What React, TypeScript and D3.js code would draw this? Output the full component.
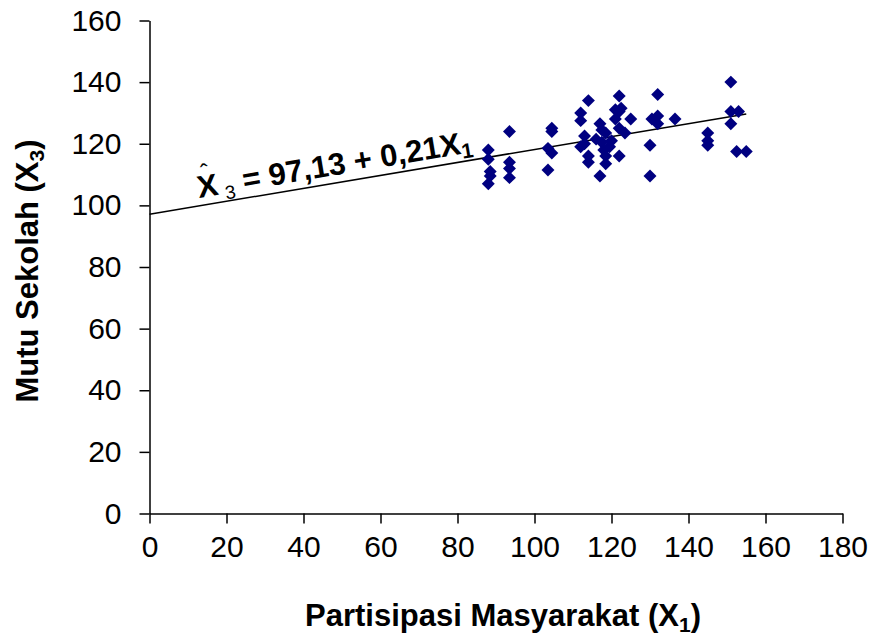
import * as d3 from "d3";
import { useEffect, useRef } from "react";

// Data
const partisipasi = [
  88, 88, 88.5, 88.5, 88, 93.5, 93.5, 93.5, 93.5, 103.5,
  103.5, 104.5, 104.5, 104.5, 112, 112, 112, 113, 113, 114,
  114, 114, 117, 117, 117.5, 117.5, 118, 118.5, 118.5, 118.5,
  121, 121, 122, 122, 122, 122, 122.5, 123.5, 125, 130,
  130, 130.5, 132, 132, 132, 136.5, 145, 145, 145, 151,
  151, 151, 153, 152.5, 155, 116, 119.5, 120
];
const mutu = [
  118, 115, 111, 109.5, 107, 124, 114, 112, 109, 118.5,
  111.5, 125, 124, 117, 130, 127.5, 119, 122.5, 120, 134,
  116, 114, 126.5, 109.5, 124.5, 120.5, 118, 116, 113.5, 123.5,
  131, 128, 135.5, 130.5, 125, 116, 131.5, 123.5, 128, 119.5,
  109.5, 128, 136, 129, 126.5, 128, 123.5, 121, 119.5, 140,
  130.5, 126.5, 130.5, 117.5, 117.5, 121.5, 119, 121
];
const xTicks = [0, 20, 40, 60, 80, 100, 120, 140, 160, 180];
const yTicks = [0, 20, 40, 60, 80, 100, 120, 140, 160];
const intercept = 97.13;
const slope = 0.21;

const font = "'Liberation Sans', Arial, sans-serif";

const drawChart = (node: SVGSVGElement) => {
  const svg = d3.select(node);
  svg.selectAll("*").remove();

  const xScale = d3.scaleLinear().domain([0, 180]).range([149.5, 842.5]);
  const yScale = d3.scaleLinear().domain([0, 160]).range([513.5, 20.5]);

  // axes
  const xAxis = d3.axisBottom(xScale).tickValues(xTicks).tickSize(10).tickSizeOuter(0).tickPadding(12);
  const xg = svg.append("g").attr("transform", `translate(0, ${yScale(0)})`).call(xAxis);

  const yAxis = d3.axisLeft(yScale).tickValues(yTicks).tickSize(10).tickSizeOuter(0).tickPadding(18);
  const yg = svg.append("g").attr("transform", `translate(${xScale(0)}, 0)`).call(yAxis);

  [xg, yg].forEach(g => {
    g.select(".domain").attr("stroke", "#000").attr("stroke-width", 1.5);
    g.selectAll(".tick line").attr("stroke", "#000").attr("stroke-width", 1.5);
    g.selectAll(".tick text")
      .attr("fill", "#000")
      .style("font-family", font)
      .style("font-size", "30px");
  });

  // regression line
  const line = d3.line<number>()
    .x(d => xScale(d))
    .y(d => yScale(intercept + slope * d));
  svg.append("path")
    .datum([0, d3.max(partisipasi) as number])
    .attr("fill", "none")
    .attr("stroke", "#000")
    .attr("stroke-width", 1.5)
    .attr("d", line);

  // points
  const diamond = d3.symbol().type(d3.symbolSquare).size(84);
  svg.append("g")
    .selectAll("path")
    .data(partisipasi)
    .join("path")
    .attr("d", diamond)
    .attr("transform", (d, i) => `translate(${xScale(d)}, ${yScale(mutu[i])}) rotate(45)`)
    .attr("fill", "#000080");

  // equation label along the line
  const angle = Math.atan2(
    yScale(intercept + slope * 100) - yScale(intercept),
    xScale(100) - xScale(0)
  ) * 180 / Math.PI;
  const eq = svg.append("g").attr("transform", `translate(199, 198) rotate(${angle})`);
  const eqText = eq.append("text")
    .style("font-family", font)
    .style("font-size", "31px")
    .style("font-weight", "bold");
  eqText.append("tspan").text("X");
  eqText.append("tspan").attr("dx", 6).attr("dy", 6)
    .style("font-size", "19px").style("font-weight", "normal").text("3");
  eqText.append("tspan").attr("dy", -6).text(" = 97,13 + 0,21X");
  eqText.append("tspan").attr("dy", 5).style("font-size", "21px").text("1");
  eq.append("text")
    .attr("x", 10)
    .attr("y", -16)
    .attr("text-anchor", "middle")
    .style("font-family", font)
    .style("font-size", "24px")
    .text("ˆ");

  // axis titles
  const xt = svg.append("text")
    .attr("x", 503)
    .attr("y", 626)
    .attr("text-anchor", "middle")
    .style("font-family", font)
    .style("font-size", "31px")
    .style("font-weight", "bold");
  xt.append("tspan").text("Partisipasi Masyarakat (X");
  xt.append("tspan").attr("dy", 6).style("font-size", "21px").text("1");
  xt.append("tspan").attr("dy", -6).text(")");

  const yt = svg.append("text")
    .attr("transform", "translate(38, 271) rotate(-90)")
    .attr("text-anchor", "middle")
    .style("font-family", font)
    .style("font-size", "31px")
    .style("font-weight", "bold");
  yt.append("tspan").text("Mutu Sekolah (X");
  yt.append("tspan").attr("dy", 6).style("font-size", "21px").text("3");
  yt.append("tspan").attr("dy", -6).text(")");
};

export default function App() {
  const ref = useRef<SVGSVGElement>(null);

  useEffect(() => {
    if (ref.current) drawChart(ref.current);
  }, []);

  return (
    <svg
      ref={ref}
      width={875}
      height={637}
      style={{ position: "absolute", left: 0, top: 0, background: "#fff" }}
    />
  );
}
